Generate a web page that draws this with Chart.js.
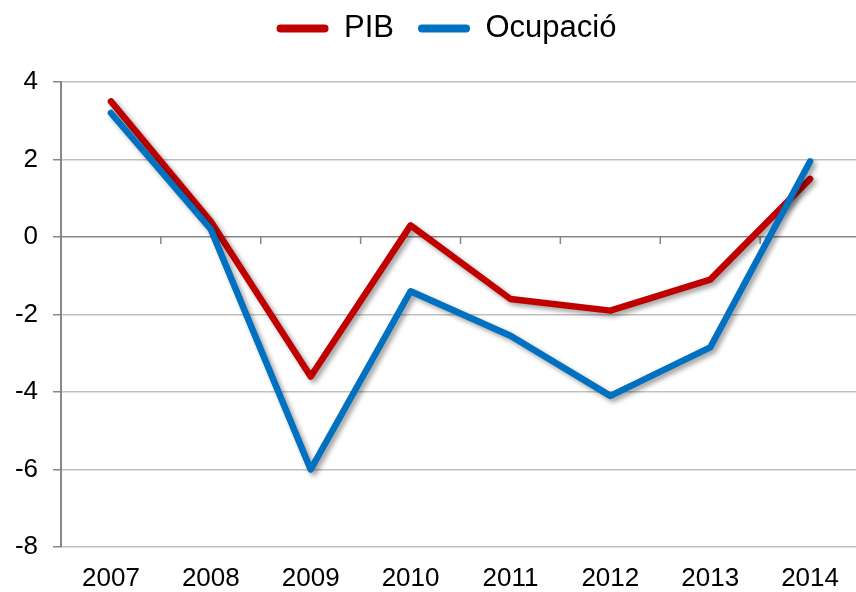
<!DOCTYPE html>
<html>
<head>
<meta charset="utf-8">
<script src="https://cdn.jsdelivr.net/npm/chart.js@4"></script>
<style>
  html, body { margin: 0; padding: 0; background: #fff; overflow: hidden; }
  #wrap { width: 860px; height: 592px; }
</style>
</head>
<body>
<div id="wrap"><canvas id="chart" width="860" height="592"></canvas></div>
<script>
// dades
var anys      = ["2007", "2008", "2009", "2010", "2011", "2012", "2013", "2014"];
var pib       = [3.5, 0.4, -3.6, 0.3, -1.6, -1.9, -1.1, 1.5];
var ocupacio  = [3.2, 0.2, -6.0, -1.4, -2.55, -4.1, -2.85, 1.95];
var yMin = -8, yMax = 4, yPas = 2;

var RED  = "#c00000";
var BLUE = "#0070c0";
var AXIS = "#868686";
var GRID = "#c0c0c0";
var FONT = "'Liberation Sans', Arial, sans-serif";

// ombra sota les línies
var shadowPlugin = {
  id: "shadow",
  beforeDatasetDraw: function(chart) {
    var ctx = chart.ctx;
    ctx.save();
    ctx.shadowColor = "rgba(0,0,0,0.38)";
    ctx.shadowBlur = 5;
    ctx.shadowOffsetX = 3;
    ctx.shadowOffsetY = 3;
  },
  afterDatasetDraw: function(chart) { chart.ctx.restore(); }
};

// marques de l'eix x sobre la línia del zero
var zeroTicks = {
  id: "zeroTicks",
  beforeDatasetsDraw: function(chart) {
    var x = chart.scales.x, y = chart.scales.y, ctx = chart.ctx;
    var y0 = y.getPixelForValue(0);
    ctx.save();
    ctx.strokeStyle = AXIS;
    ctx.lineWidth = 1.5;
    ctx.beginPath();
    for (var i = 1; i < anys.length; i++) {
      var px = (x.getPixelForValue(i - 1) + x.getPixelForValue(i)) / 2;
      ctx.moveTo(px, y0);
      ctx.lineTo(px, y0 + 7);
    }
    ctx.stroke();
    ctx.restore();
  }
};

// alçada fixa de la llegenda i centrat desplaçat
var legendFix = {
  id: "legendFix",
  afterInit: function(chart) {
    var lg = chart.legend;
    if (!lg) return;
    var fit = lg.fit.bind(lg);
    lg.fit = function() { fit(); this.height = 93; };
  },
  afterLayout: function(chart) {
    var lg = chart.legend;
    if (!lg) return;
    lg.left = 33;
    lg.right = chart.width;
    lg.width = lg.right - lg.left;
  }
};

new Chart(document.getElementById("chart"), {
  type: "line",
  data: {
    labels: anys,
    datasets: [
      {
        label: "PIB",
        data: pib,
        borderColor: RED,
        backgroundColor: RED,
        borderWidth: 6.5,
        pointRadius: 0,
        tension: 0,
        borderJoinStyle: "round",
        borderCapStyle: "round",
        order: 1
      },
      {
        label: "Ocupació",
        data: ocupacio,
        borderColor: BLUE,
        backgroundColor: BLUE,
        borderWidth: 6.5,
        pointRadius: 0,
        tension: 0,
        borderJoinStyle: "round",
        borderCapStyle: "round",
        order: 0
      }
    ]
  },
  options: {
    responsive: false,
    animation: false,
    layout: { padding: { left: 0, right: 0, top: -11, bottom: 0 } },
    plugins: {
      tooltip: { enabled: false },
      legend: {
        display: true,
        position: "top",
        labels: {
          font: { family: FONT, size: 31, lineHeight: 1 },
          color: "#000",
          boxWidth: 52,
          boxHeight: 8,
          padding: 24,
          generateLabels: function(chart) {
            return chart.data.datasets.map(function(ds, i) {
              return {
                text: ds.label,
                fillStyle: ds.borderColor,
                strokeStyle: ds.borderColor,
                lineWidth: 0,
                borderRadius: 4,
                hidden: false,
                datasetIndex: i
              };
            });
          }
        }
      }
    },
    scales: {
      x: {
        offset: true,
        grid: { display: false, drawTicks: false },
        border: { display: false },
        ticks: { font: { family: FONT, size: 26 }, color: "#000", padding: 16, maxRotation: 0 },
        afterFit: function(s) { s.height = 45; }
      },
      y: {
        min: yMin,
        max: yMax,
        ticks: { stepSize: yPas, font: { family: FONT, size: 26 }, color: "#000", padding: 15 },
        grid: {
          color: function(c) { return c.tick && c.tick.value === 0 ? AXIS : GRID; },
          lineWidth: 1.5,
          tickColor: AXIS,
          tickLength: 8
        },
        border: { display: true, color: AXIS, width: 2 },
        afterFit: function(s) { s.width = 61; }
      }
    }
  },
  plugins: [legendFix, zeroTicks, shadowPlugin]
});
</script>
</body>
</html>
